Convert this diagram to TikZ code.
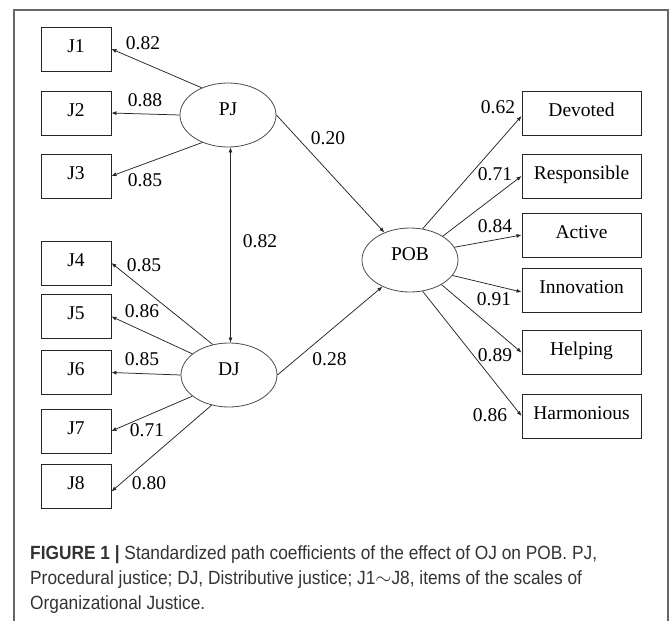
\documentclass[tikz,border=0pt]{standalone}
\usepackage{fontspec}
\setmainfont{Liberation Serif}
\newfontfamily\capfont[FakeStretch=0.906]{Liberation Sans}
\usetikzlibrary{arrows.meta, positioning, shapes.geometric}

\begin{document}
\begin{tikzpicture}[x=1pt, y=-1pt,
  item/.style={draw=black!85, line width=0.9pt, minimum width=70pt, minimum height=44pt, inner sep=0pt, text height=13.5pt, text depth=7.5pt, font=\fontsize{19.5}{22}\selectfont},
  wide/.style={item, minimum width=119pt},
  latent/.style={ellipse, draw=black!70, line width=0.8pt, minimum width=96pt, minimum height=64pt, inner sep=0pt, text height=13.5pt, text depth=12.5pt, font=\fontsize{19.5}{22}\selectfont},
  coef/.style={inner sep=0pt, font=\fontsize{19.5}{22}\selectfont},
  load/.style={draw=black!85, line width=0.75pt, -{Latex[length=5pt,width=4pt]}},
  capline/.style={anchor=base west, inner sep=0pt, text=black!80, font=\capfont\fontsize{19.1}{25}\selectfont}]
  \useasboundingbox (0,0) rectangle (670,621);
  \draw[black!60, line width=1.1pt] (14,621) -- (14,10) -- (668,10) -- (668,621);

  % items of the two justice scales
  \node[item] (J1) at (76,49) {J1};
  \node[item] (J2) at (76,113) {J2};
  \node[item] (J3) at (76,176) {J3};
  \node[item] (J4) at (76,263) {J4};
  \node[item] (J5) at (76,316.5) {J5};
  \node[item] (J6) at (76,372.5) {J6};
  \node[item] (J7) at (76,431) {J7};
  \node[item] (J8) at (76,486.5) {J8};

  % latent variables
  \node[latent] (PJ) at (228,115) {PJ};
  \node[latent] (DJ) at (229,375) {DJ};
  \node[latent] (POB) at (410,260) {POB};

  % POB dimensions
  \node[wide] (dev) at (581.5,113) {Devoted};
  \node[wide] (res) at (581.5,176) {Responsible};
  \node[wide] (act) at (581.5,235) {Active};
  \node[wide] (inn) at (581.5,290) {Innovation};
  \node[wide] (hel) at (581.5,352.5) {Helping};
  \node[wide] (har) at (581.5,416) {Harmonious};

  % loadings
  \draw[load] (PJ.134) -- (J1.east);
  \draw[load] (PJ.180) -- (J2.east);
  \draw[load] (PJ.227) -- (J3.east);
  \draw[load] (DJ.118) -- (J4.east);
  \draw[load] (DJ.150) -- (J5.east);
  \draw[load] (DJ.180) -- (J6.east);
  \draw[load] (DJ.210) -- (J7.east);
  \draw[load] (DJ.240) -- ([yshift=-5pt]J8.east);
  \draw[load, {Latex[length=5pt,width=4pt]}-{Latex[length=5pt,width=4pt]}] ([xshift=2.5pt]PJ.south) -- ([xshift=1.5pt]DJ.north);
  \draw[load] (PJ.0) -- (POB.133);
  \draw[load] (DJ.0) -- (POB.224);
  \draw[load] (POB.68) -- ([yshift=-3pt]dev.west);
  \draw[load] (POB.36) -- (res.west);
  \draw[load] (POB.16) -- (act.west);
  \draw[load] (POB.-20) -- ([yshift=-2pt]inn.west);
  \draw[load] (POB.-38) -- (hel.west);
  \draw[load] (POB.-68) -- (har.west);

  % coefficients
  \node[coef] (c1) at (143,43) {0.82};
  \node[coef] (c2) at (145,100) {0.88};
  \node[coef] (c3) at (145,180) {0.85};
  \node[coef] (c4) at (144,265) {0.85};
  \node[coef] (c5) at (142,311) {0.86};
  \node[coef] (c6) at (142,359) {0.85};
  \node[coef] (c7) at (147,430) {0.71};
  \node[coef] (c8) at (149,483) {0.80};
  \node[coef] (cpd) at (260,241) {0.82};
  \node[coef] (cp) at (328,138.5) {0.20};
  \node[coef] (cd) at (329.5,359) {0.28};
  \node[coef] (cdev) at (498,107) {0.62};
  \node[coef] (cres) at (495,174) {0.71};
  \node[coef] (cact) at (495,226) {0.84};
  \node[coef] (cinn) at (494,299) {0.91};
  \node[coef] (chel) at (495,355) {0.89};
  \node[coef] (char) at (490,415) {0.86};

  % caption
  \node[capline] (cap1) at (30,559) {\textbf{FIGURE 1 |} Standardized path coefficients of the effect of OJ on POB. PJ,};
  \node[capline] (cap2) at (30,584) {Procedural justice; DJ, Distributive justice; J1$\sim$J8, items of the scales of};
  \node[capline] (cap3) at (30,609) {Organizational Justice.};
\end{tikzpicture}
\end{document}
